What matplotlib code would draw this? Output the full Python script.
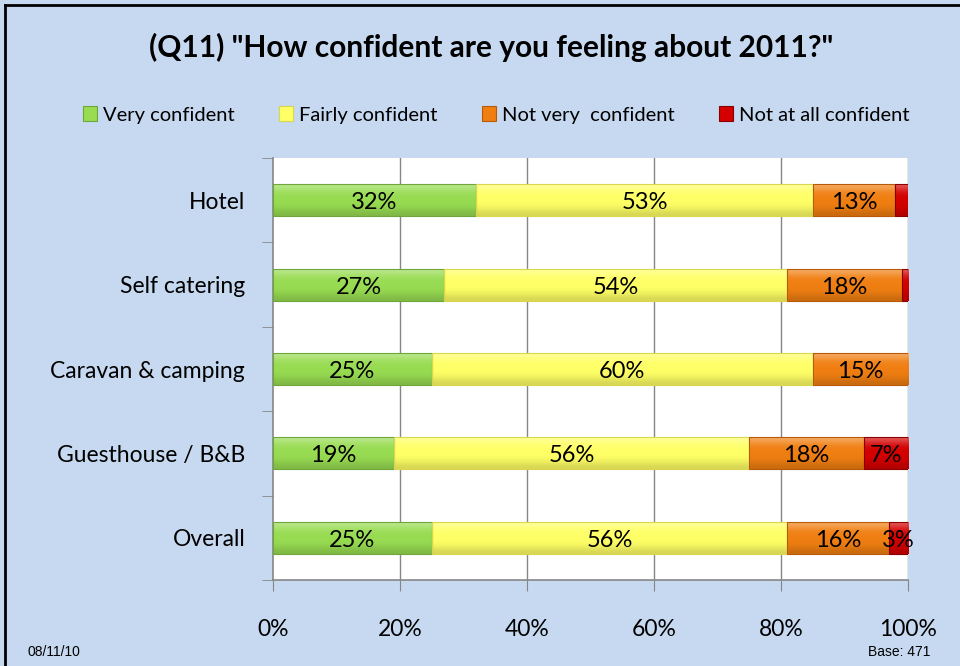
import matplotlib
matplotlib.use("Agg")
import matplotlib.pyplot as plt
import numpy as np
from matplotlib.patches import Patch
from matplotlib.lines import Line2D
from matplotlib.colors import to_rgb

categories = ["Hotel", "Self catering", "Caravan & camping", "Guesthouse / B&B", "Overall"]
series_names = ["Very confident", "Fairly confident", "Not very  confident", "Not at all confident"]
very_confident = [32, 27, 25, 19, 25]
fairly_confident = [53, 54, 60, 56, 56]
not_very_confident = [13, 18, 15, 18, 16]
not_at_all_confident = [2, 1, 0, 7, 3]
xticks = [0, 20, 40, 60, 80, 100]
xtick_labels = ["0%", "20%", "40%", "60%", "80%", "100%"]

colors = ["#98DC52", "#FFFF66", "#F07F12", "#D40000"]
edge_colors = ["#6FA63A", "#D8D84A", "#B85A08", "#8A0000"]

BG = "#C6D9F0"
FONT = "Lato"

fig = plt.figure(figsize=(9.6, 6.66), dpi=100)
fig.patch.set_facecolor(BG)

ax = fig.add_axes([273/960, 1-580/666, (908-273)/960, (580-158)/666])
ax.set_facecolor("white")

y = np.arange(len(categories))
series = [very_confident, fairly_confident, not_very_confident, not_at_all_confident]
left = np.zeros(len(categories))
bar_h = 0.38

def shade(c, f):
    r = np.array(to_rgb(c))
    if f >= 0:
        return r + (1 - r) * f
    return r * (1 + f)

for vals, col, ec in zip(series, colors, edge_colors):
    vals = np.array(vals, dtype=float)
    bars = ax.barh(y, vals, left=left, height=bar_h, color=col, edgecolor=ec,
                   linewidth=0.8, zorder=3)
    grad = np.array([shade(col, 0.35), shade(col, 0.08), shade(col, 0.0),
                     shade(col, 0.0), shade(col, -0.04), shade(col, -0.16)])
    for b in bars:
        if b.get_width() <= 0:
            continue
        x0, y0 = b.get_x(), b.get_y()
        w, h = b.get_width(), b.get_height()
        im = ax.imshow(grad[:, None, :], extent=(x0, x0 + w, y0 + h, y0),
                       aspect="auto", interpolation="bicubic", zorder=3.5)
        im.set_clip_path(b)
        b.set_facecolor("none")
        b.set_zorder(4)
    for b, v in zip(bars, vals):
        if v >= 3:
            ax.text(b.get_x() + b.get_width() / 2, b.get_y() + b.get_height() / 2 + 0.03,
                    f"{int(v)}%", ha="center", va="center", fontsize=17,
                    family=FONT, color="black", zorder=6)
    left += vals

ax.set_xlim(0, 100)
ax.set_ylim(len(categories) - 0.5, -0.5)

ax.set_xticks(xticks)
ax.set_xticklabels(xtick_labels, family=FONT, fontsize=16.5)
ax.set_yticks(y)
ax.set_yticklabels(categories, family=FONT, fontsize=16.5)
ax.set_yticks(np.arange(len(categories) + 1) - 0.5, minor=True)

ax.tick_params(axis="x", which="major", length=8, color="#868686", pad=20)
ax.tick_params(axis="y", which="major", length=0, pad=20)
ax.tick_params(axis="y", which="minor", length=8, color="#868686")

for x in xticks[1:]:
    ax.axvline(x, color="#868686", lw=1, zorder=1)

for s in ["top", "right"]:
    ax.spines[s].set_visible(False)
for s in ["left", "bottom"]:
    ax.spines[s].set_color("#868686")
    ax.spines[s].set_linewidth(1.2)
    ax.spines[s].set_zorder(2)

fig.text(491/960, 1-47/666, '(Q11) "How confident are you feeling about 2011?"',
         ha="center", va="center", fontsize=21.5, fontweight="bold", family=FONT)

handles = [Patch(facecolor=c, edgecolor=e, linewidth=0.8) for c, e in zip(colors, edge_colors)]
leg = fig.legend(handles, series_names, loc="center", bbox_to_anchor=(496/960, 1-115/666),
                 ncol=4, frameon=False, prop={"family": FONT, "size": 14.5},
                 handlelength=0.7, handleheight=0.7, handletextpad=0.3,
                 columnspacing=2.2)

fig.text(28/960, 1-652/666, "08/11/10", ha="left", va="center", fontsize=10,
         family="Liberation Sans")
fig.text(930/960, 1-652/666, "Base: 471", ha="right", va="center", fontsize=10,
         family="Liberation Sans")

fig.add_artist(Line2D([5/960, 5/960], [0, 1-5/666], transform=fig.transFigure,
                      color="black", lw=2))
fig.add_artist(Line2D([5/960, 1], [1-5/666, 1-5/666], transform=fig.transFigure,
                      color="black", lw=2))

fig.savefig("out.png", dpi=100, facecolor=BG)
